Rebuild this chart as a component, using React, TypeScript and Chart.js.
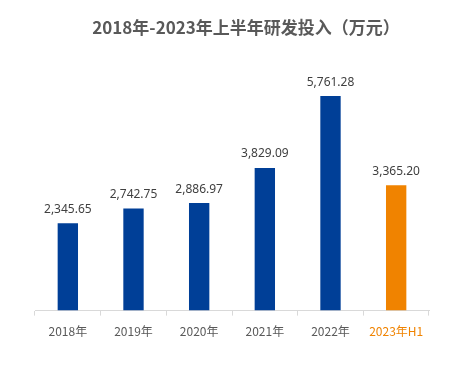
import React, { useEffect, useRef } from "react";
import { Chart, registerables } from "chart.js";

Chart.register(...registerables);

const categories = ["2018年", "2019年", "2020年", "2021年", "2022年", "2023年H1"];
const values = [2345.65, 2742.75, 2886.97, 3829.09, 5761.28, 3365.2];
const valueLabels = ["2,345.65", "2,742.75", "2,886.97", "3,829.09", "5,761.28", "3,365.20"];
const title = "2018年-2023年上半年研发投入（万元）";

const BLUE = "#003f97";
const ORANGE = "#f08300";
const GRAY = "#595959";

export default function App() {
  const ref = useRef<HTMLCanvasElement | null>(null);
  useEffect(() => {
    document.body.style.margin = "0";
    const canvas = ref.current;
    if (!canvas) return;
    const labelPlugin = {
      id: "labelsAndTitle",
      afterDatasetsDraw(chart: any) {
        const ctx = chart.ctx;
        ctx.save();
        ctx.fillStyle = GRAY;
        ctx.font = "bold 17px 'Noto Sans CJK SC', 'Noto Sans', sans-serif";
        ctx.textAlign = "center";
        ctx.textBaseline = "middle";
        ctx.fillText(title, 246, 28);
        const meta = chart.getDatasetMeta(0);
        ctx.font = "12px 'Noto Sans', 'Noto Sans CJK SC', sans-serif";
        ctx.fillStyle = "#404040";
        meta.data.forEach((bar: any, i: number) => {
          ctx.fillText(valueLabels[i], bar.x, bar.y - 14);
        });
        ctx.restore();
      },
    };
    const chart = new Chart(canvas, {
      type: "bar",
      data: {
        labels: categories,
        datasets: [
          {
            data: values,
            backgroundColor: values.map((_, i) => (i === values.length - 1 ? ORANGE : BLUE)),
            barPercentage: 0.31,
            categoryPercentage: 1,
          },
        ],
      },
      options: {
        animation: false,
        responsive: false,
        maintainAspectRatio: false,
        layout: { padding: { left: 35, right: 41, top: 50, bottom: 19 } },
        plugins: { legend: { display: false }, tooltip: { enabled: false }, title: { display: false } },
        scales: {
          y: { display: false, min: 0, max: 7000 },
          x: {
            grid: { drawOnChartArea: false, drawTicks: true, tickLength: 5, color: "#d9d9d9", offset: true },
            border: { color: "#d9d9d9" },
            ticks: {
              color: (c: any) => (c.index === categories.length - 1 ? ORANGE : GRAY),
              font: { size: 12, family: "'Noto Sans CJK SC', 'Noto Sans', sans-serif" },
              padding: 9,
              maxRotation: 0,
            },
          },
        },
      },
      plugins: [labelPlugin],
    });
    return () => chart.destroy();
  }, []);
  return (
    <div style={{ width: 470, height: 367 }}>
      <canvas ref={ref} width={470} height={367} style={{ display: "block" }} />
    </div>
  );
}
